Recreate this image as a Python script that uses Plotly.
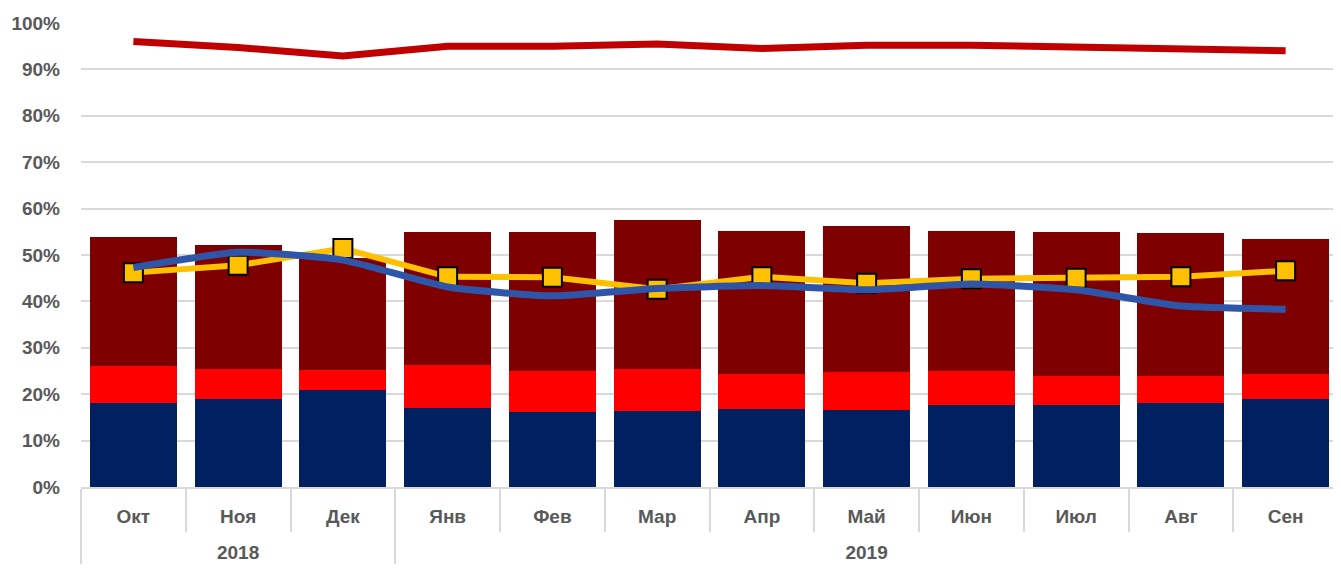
import plotly.graph_objects as go

years = ["2018"] * 3 + ["2019"] * 9
months = ["Окт", "Ноя", "Дек", "Янв", "Фев", "Мар", "Апр", "Май", "Июн", "Июл", "Авг", "Сен"]

# stacked bars (cumulative tops, %)
navy_top = [18.0, 18.9, 20.8, 17.0, 16.1, 16.4, 16.8, 16.5, 17.6, 17.6, 18.0, 19.0]
red_top = [26.1, 25.4, 25.3, 26.3, 25.0, 25.4, 24.4, 24.8, 25.0, 23.9, 23.9, 24.4]
dark_top = [53.9, 52.2, 49.3, 55.0, 54.9, 57.5, 55.1, 56.3, 55.2, 55.0, 54.7, 53.5]

# lines (%)
red_line = [96.0, 94.7, 92.9, 95.0, 95.0, 95.5, 94.5, 95.2, 95.2, 94.8, 94.2, 94.0]
yellow_line = [46.2, 47.8, 51.4, 45.3, 45.2, 42.6, 45.3, 43.9, 44.9, 45.0, 45.3, 46.6]
blue_line = [47.3, 50.6, 48.9, 43.1, 41.2, 42.8, 43.4, 42.5, 43.75, 42.5, 39.0, 38.3]

navy = navy_top
red_seg = [r - n for r, n in zip(red_top, navy_top)]
dark_seg = [d - r for d, r in zip(dark_top, red_top)]

year_labels = ["<br>" + y for y in years]
x = [year_labels, months]

fig = go.Figure()
fig.add_trace(go.Bar(x=x, y=navy, marker=dict(color="#002060", line=dict(width=0)), showlegend=False))
fig.add_trace(go.Bar(x=x, y=red_seg, marker=dict(color="#FF0000", line=dict(width=0)), showlegend=False))
fig.add_trace(go.Bar(x=x, y=dark_seg, marker=dict(color="#7F0000", line=dict(width=0)), showlegend=False))

fig.add_trace(go.Scatter(x=x, y=yellow_line, mode="lines+markers",
                         line=dict(color="#FFC000", width=6),
                         marker=dict(symbol="square", size=19, color="#FFC000",
                                     line=dict(color="black", width=2)),
                         showlegend=False))
fig.add_trace(go.Scatter(x=x, y=blue_line, mode="lines",
                         line=dict(color="#2F55A8", width=7, shape="spline", smoothing=0.5),
                         showlegend=False))
fig.add_trace(go.Scatter(x=x, y=red_line, mode="lines",
                         line=dict(color="#C00000", width=7),
                         showlegend=False))

tf = dict(family="Liberation Sans, Arial", size=19, color="#595959", weight="bold")

fig.update_layout(
    barmode="stack",
    bargap=0.17,
    width=1333, height=565,
    margin=dict(l=73, r=3, t=15, b=86),
    paper_bgcolor="white",
    plot_bgcolor="white",
    xaxis=dict(
        type="multicategory",
        automargin=False,
        range=[-0.5, 11.5],
        tickfont=tf,
        showgrid=False,
        showline=True, linecolor="#D9D9D9", linewidth=1.5,
        ticks="outside", tickson="boundaries", ticklen=43, tickcolor="#D9D9D9", tickwidth=1.5,
        showdividers=True, dividercolor="#D9D9D9", dividerwidth=1.5,
        ticklabelstandoff=11,
    ),
    yaxis=dict(
        automargin=False,
        range=[0, 100],
        dtick=10,
        ticksuffix="%",
        tickfont=tf,
        showgrid=True, gridcolor="#D9D9D9", gridwidth=1.5,
        zeroline=False,
        ticklabelstandoff=20,
    ),
)

fig.write_html("out.html")
